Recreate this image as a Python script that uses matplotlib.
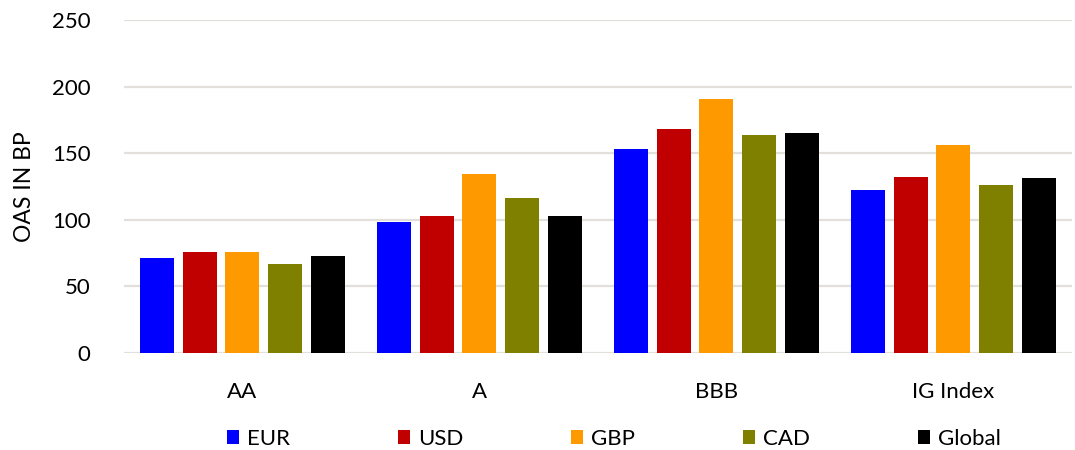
import matplotlib.pyplot as plt
import numpy as np

plt.rcParams['font.family'] = ['Lato', 'DejaVu Sans']

# data
categories = ['AA', 'A', 'BBB', 'IG Index']
series = ['EUR', 'USD', 'GBP', 'CAD', 'Global']
colors = ['#0000FF', '#C00000', '#FF9900', '#808000', '#000000']

eur = [71, 98, 153, 122]
usd = [75.5, 103, 168, 132]
gbp = [75.5, 134, 191, 156]
cad = [66.5, 116, 164, 126]
glob = [72.5, 103, 165, 131]
values = [eur, usd, gbp, cad, glob]

fig = plt.figure(figsize=(10.75, 4.5), dpi=100)
ax = fig.add_axes([0.1153, 0.2156, 0.8817, 0.74])

x = np.arange(len(categories))
pitch = 0.18
width = 0.143
for i, (name, vals, c) in enumerate(zip(series, values, colors)):
    ax.bar(x + (i - 2) * pitch, vals, width=width, color=c, label=name, zorder=3)

ax.set_xlim(-0.5, len(categories) - 0.5)
ax.set_ylim(0, 250)
ax.set_yticks([0, 50, 100, 150, 200, 250])
ax.set_xticks(x)
ax.set_xticklabels(categories)
ax.grid(axis='y', color='#e3dfdb', linewidth=1.6, zorder=0)
for s in ax.spines.values():
    s.set_visible(False)
ax.tick_params(axis='both', length=0, labelsize=16, colors='#000000')
ax.tick_params(axis='y', pad=24)
ax.tick_params(axis='x', pad=21)
ax.set_ylabel('OAS IN BP', fontsize=16.5, labelpad=12)

fig.legend(loc='lower center', bbox_to_anchor=(0.571, -0.042), ncol=5, frameon=False,
           fontsize=16, handlelength=0.55, handleheight=0.55, handletextpad=0.35,
           columnspacing=4.85)

fig.savefig('out.png', dpi=100)
